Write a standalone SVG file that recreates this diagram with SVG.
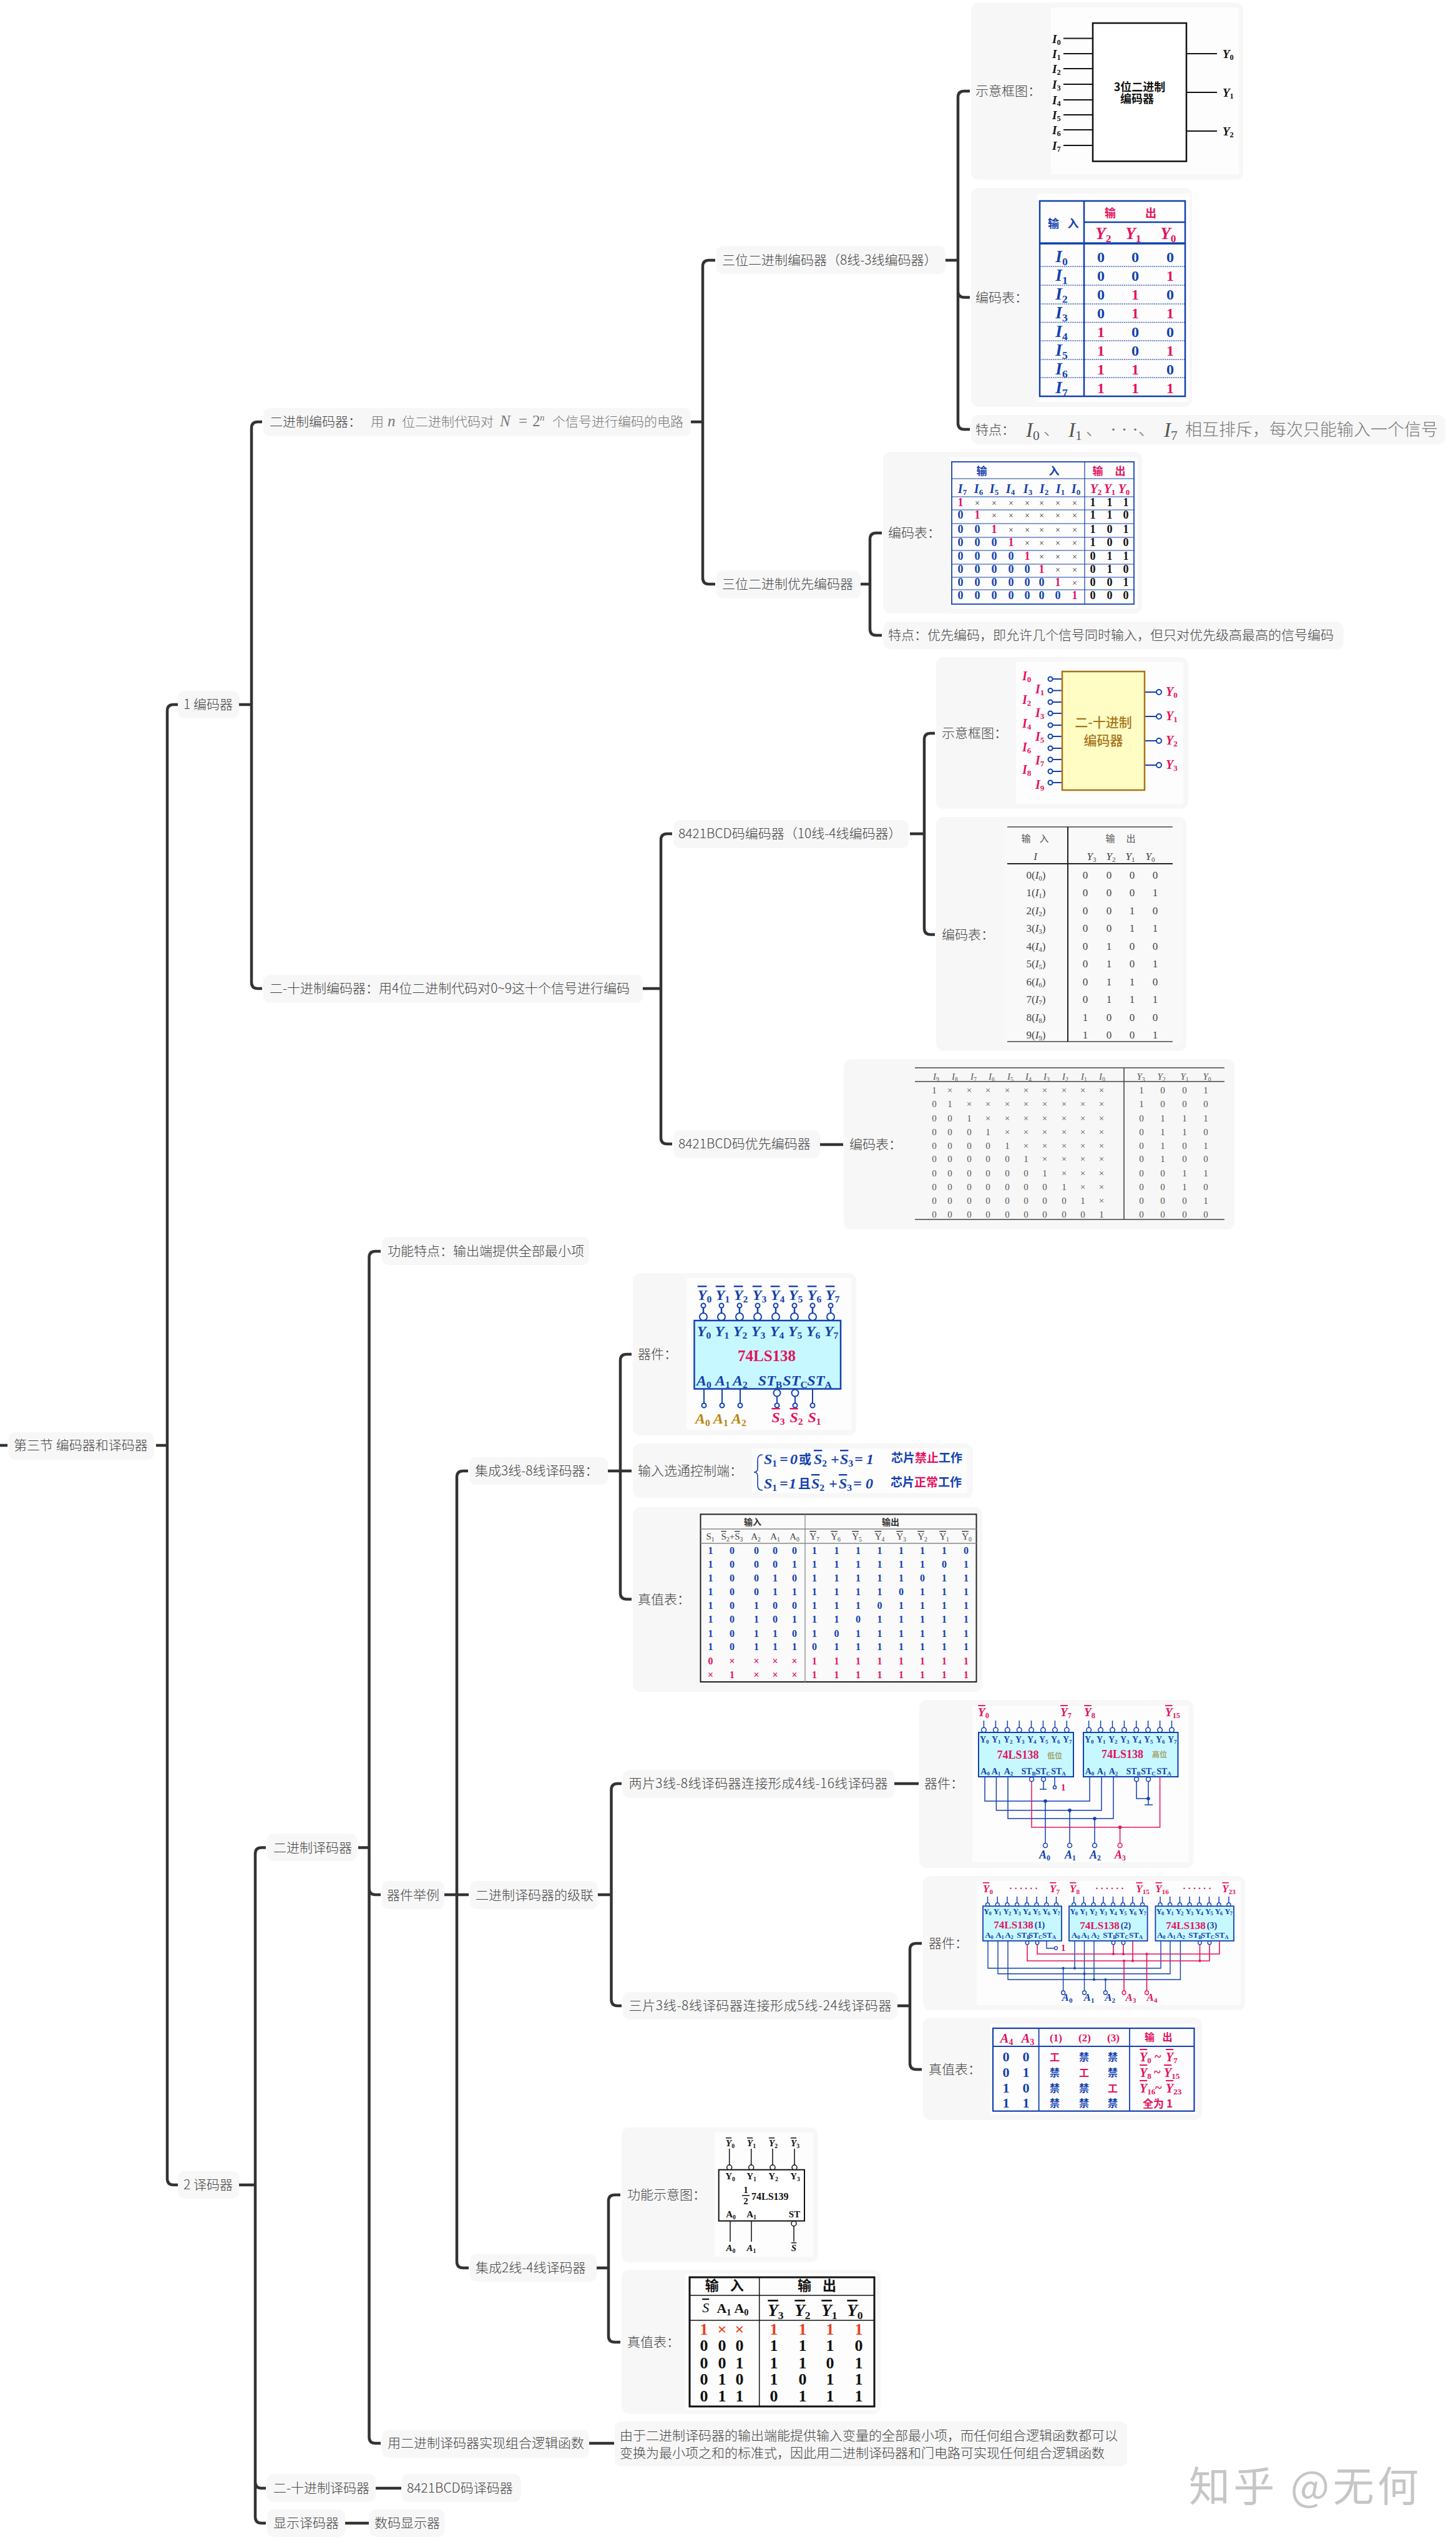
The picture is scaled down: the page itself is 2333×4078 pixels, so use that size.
<svg xmlns="http://www.w3.org/2000/svg" xmlns:xlink="http://www.w3.org/1999/xlink" width="2333" height="4078" viewBox="0 0 2333 4078">
<style>
svg{font-family:"Noto Sans CJK SC","Liberation Sans",sans-serif;}
.t{font-size:21px;fill:#444;font-weight:300}
.g{fill:#777}
.box{fill:#f7f7f7}
.w{fill:#fdfdfd}
.c{fill:none;stroke:#333;stroke-width:4.5}
.se{font-family:"Liberation Serif","Noto Sans CJK SC",serif}
.bi{font-family:"Liberation Serif","Noto Sans CJK SC",serif;font-weight:bold;font-style:italic}
.b{font-family:"Liberation Serif","Noto Sans CJK SC",serif;font-weight:bold}
.i{font-family:"Liberation Serif",serif;font-style:italic}
.m{text-anchor:middle}
.s{font-size:65%;baseline-shift:-25%;font-style:normal}
.o{text-decoration:overline}
.x{font-weight:normal;font-size:14px;fill:#333}
.B{fill:#1240ae}.R{fill:#e3125e}.K{fill:#111}.Br{fill:#b8860b}
.lb{fill:none;stroke:#1240ae}.lr{fill:none;stroke:#e3125e}.lk{fill:none;stroke:#111}
.cw{fill:#fff}
.chip{fill:#c8f8ff;stroke:#1240ae}
.hz{font-weight:bold}
</style>
<defs>
<g id="pf"><line x1="0" x2="0" y1="2095" y2="2104" class="lb" stroke-width="2.5"/><circle cy="2092" r="3.5" class="lb cw" stroke-width="2"/><circle cy="2110" r="6" class="lb cw" stroke-width="2"/></g>
<g id="pg"><line x1="0" x2="0" y1="2757" y2="2768" class="lb" stroke-width="1.5"/><circle cy="2772" r="3.8" class="lb cw" stroke-width="1.5"/></g>
<g id="ph"><line x1="0" x2="0" y1="3039" y2="3049" class="lb" stroke-width="1.5"/><circle cy="3052" r="3" class="lb cw" stroke-width="1.3"/></g>
<g id="pk"><line x1="0" x2="0" y1="3443" y2="3469" class="lk" stroke-width="1.5"/><circle cy="3473" r="4" class="lk cw" stroke-width="1.5"/></g>
</defs>
<rect width="2333" height="4078" fill="#fff"/>

<g id="connectors" class="c">
<path d="M0 2316H12M250 2316H268M285 1129H278Q268 1129 268 1139V3491Q268 3501 278 3501H285"/>
<path d="M383 1129H403M420 676H413Q403 676 403 686V1574Q403 1584 413 1584H420"/>
<path d="M383 3501H409M426 2960.5H419Q409 2960.5 409 2970.5V4033Q409 4043 419 4043H426M409 3977Q409 3987 419 3987H426"/>
<path d="M574 2960.5H591.5M610 2005H601.5Q591.5 2005 591.5 2015V3905Q591.5 3915 601.5 3915H610M591.5 3026Q591.5 3036 601.5 3036H610"/>
<path d="M712 3036H751M750 2357H742Q732 2357 732 2367V3624Q732 3634 742 3634H751"/>
<path d="M974 2357H1012M1012 2170H1004Q994 2170 994 2180V2552.6Q994 2562.6 1004 2562.6H1012"/>
<path d="M958 3036H979.5M996 2858H989.5Q979.5 2858 979.5 2868V3204Q979.5 3214 989.5 3214H996"/>
<path d="M1433 2858H1472"/>
<path d="M1438 3214H1458M1477 3114H1468Q1458 3114 1458 3124V3306Q1458 3316 1468 3316H1477"/>
<path d="M956 3634H975M994 3517H985Q975 3517 975 3527V3743Q975 3753 985 3753H994"/>
<path d="M944 3915H984M602 3987H643M553 4043H591"/>
<path d="M1107 676H1126M1146 417H1136Q1126 417 1126 427V926Q1126 936 1136 936H1146"/>
<path d="M1515 417H1535M1554 146H1545Q1535 146 1535 156V678Q1535 688 1545 688H1554M1535 466.6Q1535 476.6 1545 476.6H1554"/>
<path d="M1379 936H1394M1413 854H1404Q1394 854 1394 864V1008Q1394 1018 1404 1018H1413"/>
<path d="M1030 1584H1059M1077 1336H1069Q1059 1336 1059 1346V1823Q1059 1833 1069 1833H1077"/>
<path d="M1458 1336H1481M1498 1175H1491Q1481 1175 1481 1185V1487.5Q1481 1497.5 1491 1497.5H1498"/>
<path d="M1314 1834H1351"/>
</g>

<g id="root"><rect class="box" x="14" y="2295" width="233" height="44" rx="10"/><text class="t" x="22" y="2323">第三节 编码器和译码器</text></g>
<g id="n1"><rect class="box" x="285" y="1107" width="98" height="44" rx="10"/><text class="t" x="294" y="1136">1 编码器</text></g>
<g id="n2"><rect class="box" x="285" y="3479" width="98" height="44" rx="10"/><text class="t" x="294" y="3508">2 译码器</text></g>

<g id="n-bin-enc"><rect class="box" x="422" y="654" width="685" height="45" rx="10"/>
<text class="t" x="432" y="683">二进制编码器：</text>
<text class="t g" x="594" y="683">用</text><text class="i g" x="621" y="683" font-size="25">n</text>
<text class="t g" x="644" y="683">位二进制代码对</text><text class="i g" x="801" y="683" font-size="25">N</text>
<text class="se g" x="831" y="683" font-size="25">=</text><text class="se g" x="853" y="683" font-size="25">2</text><text class="i g" x="865" y="674" font-size="15">n</text>
<text class="t g" x="885" y="683">个信号进行编码的电路</text></g>

<g id="n-3bit"><rect class="box" x="1148" y="394" width="367" height="45" rx="10"/><text class="t" x="1157" y="424">三位二进制编码器（8线-3线编码器）</text></g>

<g id="n-3bit-diagram"><rect class="box" x="1556" y="4" width="436" height="284" rx="12"/><text class="t" x="1563" y="153">示意框图：</text>
<rect class="w" x="1684" y="12" width="301" height="267"/>
<path class="lk" stroke-width="2" d="M1704 61.5H1751M1704 86H1751M1704 110H1751M1704 135H1751M1704 160H1751M1704 184H1751M1704 208H1751M1704 233H1751M1901 86H1950M1901 148H1950M1901 210H1950"/>
<rect x="1751" y="37" width="150" height="221.5" fill="#fff" stroke="#111" stroke-width="2.5"/>
<g class="bi K" font-size="19"><text x="1686" y="69">I<tspan class="s">0</tspan></text><text x="1686" y="93">I<tspan class="s">1</tspan></text><text x="1686" y="117">I<tspan class="s">2</tspan></text><text x="1686" y="142">I<tspan class="s">3</tspan></text><text x="1686" y="167">I<tspan class="s">4</tspan></text><text x="1686" y="191">I<tspan class="s">5</tspan></text><text x="1686" y="215">I<tspan class="s">6</tspan></text><text x="1686" y="240">I<tspan class="s">7</tspan></text>
<text x="1959" y="93">Y<tspan class="s">0</tspan></text><text x="1959" y="155">Y<tspan class="s">1</tspan></text><text x="1959" y="217">Y<tspan class="s">2</tspan></text></g>
<text class="m hz K" x="1826" y="146" font-size="18">3位二进制</text><text class="m hz K" x="1822" y="165" font-size="18">编码器</text></g>

<g id="n-3bit-table"><rect class="box" x="1556" y="301" width="354" height="351" rx="12"/><text class="t" x="1563" y="484">编码表：</text>
<rect class="w" x="1662" y="310" width="244" height="334"/>
<rect x="1666" y="322" width="233" height="313" fill="none" stroke="#1240ae" stroke-width="2.5"/>
<path class="lb" stroke-width="2.5" d="M1737 322V635M1737 356H1899"/><path class="lb" stroke-width="3.5" d="M1666 390H1899"/>
<path class="lb" stroke-width="1.5" stroke-dasharray="1.5 1.5" d="M1666 427H1899M1666 457H1899M1666 487H1899M1666 516.5H1899M1666 546H1899M1666 576H1899M1666 605H1899"/>
<g class="hz B" font-size="18"><text class="m" x="1688" y="365">输</text><text class="m" x="1719.5" y="365">入</text></g>
<g class="hz R" font-size="18"><text class="m" x="1779" y="348">输</text><text class="m" x="1844" y="348">出</text></g>
<g class="bi R" font-size="27"><text class="m" x="1768" y="383">Y<tspan class="s">2</tspan></text><text class="m" x="1816" y="383">Y<tspan class="s">1</tspan></text><text class="m" x="1872" y="383">Y<tspan class="s">0</tspan></text></g>
<g class="bi B" font-size="27"><text class="m" x="1701" y="420">I<tspan class="s">0</tspan></text><text class="m" x="1701" y="450">I<tspan class="s">1</tspan></text><text class="m" x="1701" y="480">I<tspan class="s">2</tspan></text><text class="m" x="1701" y="510">I<tspan class="s">3</tspan></text><text class="m" x="1701" y="540">I<tspan class="s">4</tspan></text><text class="m" x="1701" y="570">I<tspan class="s">5</tspan></text><text class="m" x="1701" y="600">I<tspan class="s">6</tspan></text><text class="m" x="1701" y="630">I<tspan class="s">7</tspan></text></g>
<g class="b B" font-size="24" text-anchor="middle">
<text x="1764 1819 1875" y="420">000</text>
<text x="1764 1819 1875" y="450">00<tspan class="R">1</tspan></text>
<text x="1764 1819 1875" y="480">0<tspan class="R">1</tspan>0</text>
<text x="1764 1819 1875" y="510">0<tspan class="R">11</tspan></text>
<text x="1764 1819 1875" y="540"><tspan class="R">1</tspan>00</text>
<text x="1764 1819 1875" y="570"><tspan class="R">1</tspan>0<tspan class="R">1</tspan></text>
<text x="1764 1819 1875" y="600"><tspan class="R">11</tspan>0</text>
<text x="1764 1819 1875" y="630"><tspan class="R">111</tspan></text>
</g></g>

<g id="n-3bit-feature"><rect class="box" x="1556" y="665" width="760" height="47" rx="12"/><text class="t" x="1563" y="696">特点：</text>
<g fill="#555"><text class="i" x="1644" y="700" font-size="33">I<tspan class="s">0</tspan></text><text class="t g" x="1672" y="697" style="font-size:26px">、</text>
<text class="i" x="1712" y="700" font-size="33">I<tspan class="s">1</tspan></text><text class="t g" x="1740" y="697" style="font-size:26px">、</text>
<text class="se g" x="1779" y="698" font-size="30">· · ·</text><text class="t g" x="1824" y="697" style="font-size:26px">、</text>
<text class="i" x="1865" y="700" font-size="33">I<tspan class="s">7</tspan></text></g>
<text class="t g" x="1899" y="698" style="font-size:27px">相互排斥，每次只能输入一个信号</text></g>

<g id="n-prio"><rect class="box" x="1148" y="914" width="231" height="45" rx="10"/><text class="t" x="1157" y="943">三位二进制优先编码器</text></g>

<g id="n-prio-table"><rect class="box" x="1415" y="724" width="415" height="259" rx="12"/><text class="t" x="1423" y="861">编码表：</text>
<rect class="w" x="1522" y="733" width="301" height="242"/>
<rect x="1525" y="740" width="292" height="228" fill="none" stroke="#2b55b5" stroke-width="2"/>
<path class="lb" stroke-width="1.2" d="M1738 740V968M1525 767H1817M1525 796H1817M1525 817H1817M1525 839H1817M1525 861H1817M1525 882H1817M1525 904H1817M1525 925H1817M1525 945H1817"/>
<g class="hz B" font-size="17"><text class="m" x="1573" y="761">输</text><text class="m" x="1689" y="761">入</text></g>
<g class="hz R" font-size="17"><text class="m" x="1759" y="761">输</text><text class="m" x="1795" y="761">出</text></g>
<g class="bi B" font-size="20"><text class="m" x="1542" y="790">I<tspan class="s">7</tspan></text><text class="m" x="1568" y="790">I<tspan class="s">6</tspan></text><text class="m" x="1593" y="790">I<tspan class="s">5</tspan></text><text class="m" x="1619" y="790">I<tspan class="s">4</tspan></text><text class="m" x="1647" y="790">I<tspan class="s">3</tspan></text><text class="m" x="1673" y="790">I<tspan class="s">2</tspan></text><text class="m" x="1699" y="790">I<tspan class="s">1</tspan></text><text class="m" x="1724" y="790">I<tspan class="s">0</tspan></text></g>
<g class="bi R" font-size="20"><text class="m" x="1756" y="790">Y<tspan class="s">2</tspan></text><text class="m" x="1778" y="790">Y<tspan class="s">1</tspan></text><text class="m" x="1801" y="790">Y<tspan class="s">0</tspan></text></g>
<g class="b B" font-size="18" text-anchor="middle">
<text x="1539 1566 1593 1620 1646 1669 1695 1722 1751 1778 1804" y="811"><tspan class="R">1</tspan><tspan class="x">×××××××</tspan><tspan class="K">111</tspan></text>
<text x="1539 1566 1593 1620 1646 1669 1695 1722 1751 1778 1804" y="831">0<tspan class="R">1</tspan><tspan class="x">××××××</tspan><tspan class="K">110</tspan></text>
<text x="1539 1566 1593 1620 1646 1669 1695 1722 1751 1778 1804" y="854">00<tspan class="R">1</tspan><tspan class="x">×××××</tspan><tspan class="K">101</tspan></text>
<text x="1539 1566 1593 1620 1646 1669 1695 1722 1751 1778 1804" y="875">000<tspan class="R">1</tspan><tspan class="x">××××</tspan><tspan class="K">100</tspan></text>
<text x="1539 1566 1593 1620 1646 1669 1695 1722 1751 1778 1804" y="897">0000<tspan class="R">1</tspan><tspan class="x">×××</tspan><tspan class="K">011</tspan></text>
<text x="1539 1566 1593 1620 1646 1669 1695 1722 1751 1778 1804" y="918">00000<tspan class="R">1</tspan><tspan class="x">××</tspan><tspan class="K">010</tspan></text>
<text x="1539 1566 1593 1620 1646 1669 1695 1722 1751 1778 1804" y="939">000000<tspan class="R">1</tspan><tspan class="x">×</tspan><tspan class="K">001</tspan></text>
<text x="1539 1566 1593 1620 1646 1669 1695 1722 1751 1778 1804" y="960">0000000<tspan class="R">1</tspan><tspan class="K">000</tspan></text>
</g></g>

<g id="n-prio-feature"><rect class="box" x="1415" y="996" width="738" height="44" rx="12"/><text class="t" x="1423" y="1025">特点：优先编码，即允许几个信号同时输入，但只对优先级高最高的信号编码</text></g>

<g id="n-bcd-enc"><rect class="box" x="422" y="1562" width="608" height="45" rx="10"/><text class="t" x="432" y="1591">二-十进制编码器：用4位二进制代码对0~9这十个信号进行编码</text></g>
<g id="n-8421"><rect class="box" x="1079" y="1314" width="377" height="45" rx="10"/><text class="t" x="1087" y="1343">8421BCD码编码器（10线-4线编码器）</text></g>

<g id="n-8421-diagram"><rect class="box" x="1500" y="1053" width="404" height="243" rx="12"/><text class="t" x="1509" y="1182">示意框图：</text>
<rect class="w" x="1628" y="1061" width="268" height="227"/>
<path class="lb" stroke-width="2" d="M1686 1088H1702M1686 1106.5H1702M1686 1125H1702M1686 1143H1702M1686 1162H1702M1686 1180H1702M1686 1199H1702M1686 1217H1702M1686 1236H1702M1686 1254H1702M1834 1109H1854M1834 1148H1854M1834 1187H1854M1834 1226H1854"/>
<g class="lb cw" stroke-width="2"><circle cx="1683" cy="1088" r="3.5"/><circle cx="1683" cy="1106.5" r="3.5"/><circle cx="1683" cy="1125" r="3.5"/><circle cx="1683" cy="1143" r="3.5"/><circle cx="1683" cy="1162" r="3.5"/><circle cx="1683" cy="1180" r="3.5"/><circle cx="1683" cy="1199" r="3.5"/><circle cx="1683" cy="1217" r="3.5"/><circle cx="1683" cy="1236" r="3.5"/><circle cx="1683" cy="1254" r="3.5"/><circle cx="1857" cy="1109" r="4"/><circle cx="1857" cy="1148" r="4"/><circle cx="1857" cy="1187" r="4"/><circle cx="1857" cy="1226" r="4"/></g>
<rect x="1702" y="1076" width="132" height="190" fill="#fffdc4" stroke="#a8741a" stroke-width="2.5"/>
<g class="bi R" font-size="20"><text x="1638" y="1090">I<tspan class="s">0</tspan></text><text x="1659" y="1111">I<tspan class="s">1</tspan></text><text x="1638" y="1128">I<tspan class="s">2</tspan></text><text x="1659" y="1149">I<tspan class="s">3</tspan></text><text x="1638" y="1166">I<tspan class="s">4</tspan></text><text x="1659" y="1187">I<tspan class="s">5</tspan></text><text x="1638" y="1204">I<tspan class="s">6</tspan></text><text x="1659" y="1225">I<tspan class="s">7</tspan></text><text x="1638" y="1240">I<tspan class="s">8</tspan></text><text x="1659" y="1264">I<tspan class="s">9</tspan></text>
<text x="1868" y="1115">Y<tspan class="s">0</tspan></text><text x="1868" y="1154">Y<tspan class="s">1</tspan></text><text x="1868" y="1193">Y<tspan class="s">2</tspan></text><text x="1868" y="1232">Y<tspan class="s">3</tspan></text></g>
<text class="m" font-weight="500" fill="#a8741a" x="1768" y="1165" font-size="21">二-十进制</text><text class="m" font-weight="500" fill="#a8741a" x="1768" y="1194" font-size="21">编码器</text></g>

<g id="n-8421-table"><rect class="box" x="1500" y="1309" width="401" height="375" rx="12"/><text class="t" x="1509" y="1505">编码表：</text>
<rect x="1608" y="1318" width="285" height="357" style="fill:#f9f9f9"/>
<path style="stroke:#444;fill:none" stroke-width="1.5" d="M1614 1325H1879M1614 1669H1879"/><path style="stroke:#222;fill:none" stroke-width="2" d="M1614 1384H1879M1711 1325V1669"/>
<g fill="#555" font-size="15"><text class="m" x="1644" y="1349">输</text><text class="m" x="1673" y="1349">入</text><text class="m" x="1779" y="1349">输</text><text class="m" x="1812" y="1349">出</text></g>
<g class="i" fill="#444" font-size="17"><text class="m" x="1659" y="1378">I</text><text class="m" x="1749" y="1378">Y<tspan class="s">3</tspan></text><text class="m" x="1780" y="1378">Y<tspan class="s">2</tspan></text><text class="m" x="1811" y="1378">Y<tspan class="s">1</tspan></text><text class="m" x="1843" y="1378">Y<tspan class="s">0</tspan></text></g>
<g class="se" fill="#444" font-size="17"><text class="m" x="1660" y="1408">0(<tspan class="i">I</tspan><tspan class="s">0</tspan>)</text><text class="m" x="1660" y="1436">1(<tspan class="i">I</tspan><tspan class="s">1</tspan>)</text><text class="m" x="1660" y="1465">2(<tspan class="i">I</tspan><tspan class="s">2</tspan>)</text><text class="m" x="1660" y="1493">3(<tspan class="i">I</tspan><tspan class="s">3</tspan>)</text><text class="m" x="1660" y="1522">4(<tspan class="i">I</tspan><tspan class="s">4</tspan>)</text><text class="m" x="1660" y="1550">5(<tspan class="i">I</tspan><tspan class="s">5</tspan>)</text><text class="m" x="1660" y="1579">6(<tspan class="i">I</tspan><tspan class="s">6</tspan>)</text><text class="m" x="1660" y="1607">7(<tspan class="i">I</tspan><tspan class="s">7</tspan>)</text><text class="m" x="1660" y="1636">8(<tspan class="i">I</tspan><tspan class="s">8</tspan>)</text><text class="m" x="1660" y="1664">9(<tspan class="i">I</tspan><tspan class="s">9</tspan>)</text></g>
<g class="se" fill="#444" font-size="17" text-anchor="middle">
<text x="1739 1777 1814 1851" y="1408">0000</text><text x="1739 1777 1814 1851" y="1436">0001</text><text x="1739 1777 1814 1851" y="1465">0010</text><text x="1739 1777 1814 1851" y="1493">0011</text><text x="1739 1777 1814 1851" y="1522">0100</text><text x="1739 1777 1814 1851" y="1550">0101</text><text x="1739 1777 1814 1851" y="1579">0110</text><text x="1739 1777 1814 1851" y="1607">0111</text><text x="1739 1777 1814 1851" y="1636">1000</text><text x="1739 1777 1814 1851" y="1664">1001</text>
</g></g>

<g id="n-8421-prio"><rect class="box" x="1079" y="1811" width="235" height="45" rx="10"/><text class="t" x="1087" y="1840">8421BCD码优先编码器</text></g>
<g id="n-8421-prio-table"><rect class="box" x="1352" y="1697" width="626" height="273" rx="12"/><text class="t" x="1361" y="1841">编码表：</text>
<path style="stroke:#444;fill:none" stroke-width="1.6" d="M1466 1711H1962M1466 1733H1962M1466 1954H1962M1801 1711V1954"/>
<g class="i" fill="#555" font-size="15"><text class="m" x="1500" y="1730">I<tspan class="s">9</tspan></text><text class="m" x="1530" y="1730">I<tspan class="s">8</tspan></text><text class="m" x="1560" y="1730">I<tspan class="s">7</tspan></text><text class="m" x="1589" y="1730">I<tspan class="s">6</tspan></text><text class="m" x="1619" y="1730">I<tspan class="s">5</tspan></text><text class="m" x="1648" y="1730">I<tspan class="s">4</tspan></text><text class="m" x="1677" y="1730">I<tspan class="s">3</tspan></text><text class="m" x="1707" y="1730">I<tspan class="s">2</tspan></text><text class="m" x="1737" y="1730">I<tspan class="s">1</tspan></text><text class="m" x="1766" y="1730">I<tspan class="s">0</tspan></text><text class="m" x="1828" y="1730">Y<tspan class="s">3</tspan></text><text class="m" x="1861" y="1730">Y<tspan class="s">2</tspan></text><text class="m" x="1898" y="1730">Y<tspan class="s">1</tspan></text><text class="m" x="1934" y="1730">Y<tspan class="s">0</tspan></text></g>
<g class="se" fill="#555" font-size="15" text-anchor="middle">
<text x="1497 1522 1553 1583 1614 1644 1674 1705 1735 1765 1829 1863 1898 1932" y="1752">1×××××××××1001</text>
<text x="1497 1522 1553 1583 1614 1644 1674 1705 1735 1765 1829 1863 1898 1932" y="1774">01××××××××1000</text>
<text x="1497 1522 1553 1583 1614 1644 1674 1705 1735 1765 1829 1863 1898 1932" y="1797">001×××××××0111</text>
<text x="1497 1522 1553 1583 1614 1644 1674 1705 1735 1765 1829 1863 1898 1932" y="1819">0001××××××0110</text>
<text x="1497 1522 1553 1583 1614 1644 1674 1705 1735 1765 1829 1863 1898 1932" y="1841">00001×××××0101</text>
<text x="1497 1522 1553 1583 1614 1644 1674 1705 1735 1765 1829 1863 1898 1932" y="1862">000001××××0100</text>
<text x="1497 1522 1553 1583 1614 1644 1674 1705 1735 1765 1829 1863 1898 1932" y="1885">0000001×××0011</text>
<text x="1497 1522 1553 1583 1614 1644 1674 1705 1735 1765 1829 1863 1898 1932" y="1907">00000001××0010</text>
<text x="1497 1522 1553 1583 1614 1644 1674 1705 1735 1765 1829 1863 1898 1932" y="1929">000000001×0001</text>
<text x="1497 1522 1553 1583 1614 1644 1674 1705 1735 1765 1829 1863 1898 1932" y="1951">00000000010000</text>
</g></g>

<g id="n-bin-dec"><rect class="box" x="428" y="2938" width="144" height="44" rx="10"/><text class="t" x="438" y="2968">二进制译码器</text></g>
<g id="n-feature"><rect class="box" x="612" y="1982" width="332" height="45" rx="10"/><text class="t" x="621" y="2012">功能特点：输出端提供全部最小项</text></g>
<g id="n-examples"><rect class="box" x="612" y="3014" width="100" height="45" rx="10"/><text class="t" x="620" y="3044">器件举例</text></g>
<g id="n-38"><rect class="box" x="752" y="2335" width="222" height="44" rx="10"/><text class="t" x="761" y="2364">集成3线-8线译码器：</text></g>

<g id="n-38-device"><rect class="box" x="1014" y="2040" width="358" height="260" rx="12"/><text class="t" x="1022" y="2177">器件：</text>
<rect class="w" x="1100" y="2048" width="264" height="243"/>
<use href="#pf" x="1127"/><use href="#pf" x="1156"/><use href="#pf" x="1185"/><use href="#pf" x="1214"/><use href="#pf" x="1243"/><use href="#pf" x="1273"/><use href="#pf" x="1302"/><use href="#pf" x="1331"/>
<rect class="chip" x="1112.5" y="2116" width="234.5" height="109.5" stroke-width="2.5"/>
<g class="bi B" font-size="24">
<text class="m" x="1129" y="2083"><tspan class="o">Y</tspan><tspan class="s">0</tspan></text><text class="m" x="1158" y="2083"><tspan class="o">Y</tspan><tspan class="s">1</tspan></text><text class="m" x="1187" y="2083"><tspan class="o">Y</tspan><tspan class="s">2</tspan></text><text class="m" x="1217" y="2083"><tspan class="o">Y</tspan><tspan class="s">3</tspan></text><text class="m" x="1246" y="2083"><tspan class="o">Y</tspan><tspan class="s">4</tspan></text><text class="m" x="1275" y="2083"><tspan class="o">Y</tspan><tspan class="s">5</tspan></text><text class="m" x="1305" y="2083"><tspan class="o">Y</tspan><tspan class="s">6</tspan></text><text class="m" x="1334" y="2083"><tspan class="o">Y</tspan><tspan class="s">7</tspan></text>
<text class="m" x="1128" y="2141">Y<tspan class="s">0</tspan></text><text class="m" x="1157" y="2141">Y<tspan class="s">1</tspan></text><text class="m" x="1186" y="2141">Y<tspan class="s">2</tspan></text><text class="m" x="1215" y="2141">Y<tspan class="s">3</tspan></text><text class="m" x="1245" y="2141">Y<tspan class="s">4</tspan></text><text class="m" x="1274" y="2141">Y<tspan class="s">5</tspan></text><text class="m" x="1303" y="2141">Y<tspan class="s">6</tspan></text><text class="m" x="1332" y="2141">Y<tspan class="s">7</tspan></text>
<text class="m" x="1128" y="2220">A<tspan class="s">0</tspan></text><text class="m" x="1158" y="2220">A<tspan class="s">1</tspan></text><text class="m" x="1186" y="2220">A<tspan class="s">2</tspan></text><text class="m" x="1234" y="2220">ST<tspan class="s">B</tspan></text><text class="m" x="1274" y="2220">ST<tspan class="s">C</tspan></text><text class="m" x="1313" y="2220">ST<tspan class="s">A</tspan></text></g>
<text class="b R m" x="1228.5" y="2181" font-size="25">74LS138</text>
<path class="lb" stroke-width="2" d="M1128 2226V2249M1157 2226V2249M1186 2226V2249M1245 2238V2249M1274 2238V2249M1302 2226V2249"/>
<g class="lb cw" stroke-width="2"><circle cx="1128" cy="2252" r="3.5"/><circle cx="1157" cy="2252" r="3.5"/><circle cx="1186" cy="2252" r="3.5"/><circle cx="1245" cy="2252" r="3.5"/><circle cx="1274" cy="2252" r="3.5"/><circle cx="1302" cy="2252" r="3.5"/><circle cx="1245" cy="2232" r="5.5"/><circle cx="1274" cy="2232" r="5.5"/></g>
<g class="bi Br" font-size="24"><text class="m" x="1126" y="2281">A<tspan class="s">0</tspan></text><text class="m" x="1155" y="2281">A<tspan class="s">1</tspan></text><text class="m" x="1184" y="2281">A<tspan class="s">2</tspan></text></g>
<g class="bi R" font-size="24"><text class="m" x="1247" y="2279"><tspan class="o">S</tspan><tspan class="s">3</tspan></text><text class="m" x="1276" y="2279"><tspan class="o">S</tspan><tspan class="s">2</tspan></text><text class="m" x="1305" y="2279">S<tspan class="s">1</tspan></text></g></g>

<g id="n-38-enable"><rect class="box" x="1014" y="2313" width="545" height="87.5" rx="12"/><text class="t" x="1022" y="2364">输入选通控制端：</text>
<rect class="w" x="1205" y="2321" width="345" height="71.5"/>
<path class="lb" stroke-width="1.6" d="M1222 2331Q1214 2331 1214 2339V2353Q1214 2359 1208 2359Q1214 2359 1214 2365V2380Q1214 2388 1222 2388"/>
<g class="bi B" font-size="24"><text x="1224" y="2346">S<tspan class="s">1</tspan></text><text x="1249" y="2346">=</text><text x="1266" y="2346">0</text><text x="1280" y="2346" style="font-style:normal;font-size:20px">或</text><text x="1304" y="2346"><tspan class="o">S</tspan><tspan class="s">2</tspan></text><text x="1331" y="2346">+</text><text x="1346" y="2346"><tspan class="o">S</tspan><tspan class="s">3</tspan></text><text x="1369" y="2346">=</text><text x="1388" y="2346">1</text>
<text x="1224" y="2385">S<tspan class="s">1</tspan></text><text x="1249" y="2385">=</text><text x="1264" y="2385">1</text><text x="1279" y="2385" style="font-style:normal;font-size:20px">且</text><text x="1300" y="2385"><tspan class="o">S</tspan><tspan class="s">2</tspan></text><text x="1328" y="2385">+</text><text x="1344" y="2385"><tspan class="o">S</tspan><tspan class="s">3</tspan></text><text x="1367" y="2385">=</text><text x="1387" y="2385">0</text></g>
<text class="hz B" x="1428" y="2343" font-size="19">芯片<tspan class="R">禁止</tspan>工作</text><text class="hz B" x="1427" y="2382" font-size="19">芯片<tspan class="R">正常</tspan>工作</text></g>

<g id="n-38-table"><rect class="box" x="1014" y="2415" width="560" height="296" rx="12"/><text class="t" x="1022" y="2570">真值表：</text>
<rect x="1122.5" y="2426.4" width="442" height="268.6" fill="#fafafa" stroke="#222" stroke-width="2"/>
<path style="stroke:#888;fill:none" stroke-width="1.3" d="M1122.5 2450H1564.5M1122.5 2473H1564.5M1290 2426.4V2695"/>
<g class="hz" fill="#333" font-size="14"><text class="m" x="1206" y="2444">输入</text><text class="m" x="1427" y="2444">输出</text></g>
<g class="se" fill="#444" font-size="15"><text class="m" x="1138" y="2467">S<tspan class="s">1</tspan></text><text class="m" x="1173" y="2467"><tspan class="o">S</tspan><tspan class="s">2</tspan>+<tspan class="o">S</tspan><tspan class="s">3</tspan></text><text class="m" x="1211" y="2467">A<tspan class="s">2</tspan></text><text class="m" x="1242" y="2467">A<tspan class="s">1</tspan></text><text class="m" x="1273" y="2467">A<tspan class="s">0</tspan></text><text class="m" x="1305" y="2467"><tspan class="o">Y</tspan><tspan class="s">7</tspan></text><text class="m" x="1339" y="2467"><tspan class="o">Y</tspan><tspan class="s">6</tspan></text><text class="m" x="1373" y="2467"><tspan class="o">Y</tspan><tspan class="s">5</tspan></text><text class="m" x="1409.5" y="2467"><tspan class="o">Y</tspan><tspan class="s">4</tspan></text><text class="m" x="1444" y="2467"><tspan class="o">Y</tspan><tspan class="s">3</tspan></text><text class="m" x="1478" y="2467"><tspan class="o">Y</tspan><tspan class="s">2</tspan></text><text class="m" x="1513" y="2467"><tspan class="o">Y</tspan><tspan class="s">1</tspan></text><text class="m" x="1549" y="2467"><tspan class="o">Y</tspan><tspan class="s">0</tspan></text></g>
<g class="b B" font-size="16" text-anchor="middle">
<text x="1138.5 1173 1212 1242 1273 1305 1340.6 1375 1409.5 1444 1478 1513 1548" y="2489.5">1000011111110</text>
<text x="1138.5 1173 1212 1242 1273 1305 1340.6 1375 1409.5 1444 1478 1513 1548" y="2512">1000111111101</text>
<text x="1138.5 1173 1212 1242 1273 1305 1340.6 1375 1409.5 1444 1478 1513 1548" y="2534">1001011111011</text>
<text x="1138.5 1173 1212 1242 1273 1305 1340.6 1375 1409.5 1444 1478 1513 1548" y="2556">1001111110111</text>
<text x="1138.5 1173 1212 1242 1273 1305 1340.6 1375 1409.5 1444 1478 1513 1548" y="2578">1010011101111</text>
<text x="1138.5 1173 1212 1242 1273 1305 1340.6 1375 1409.5 1444 1478 1513 1548" y="2600">1010111011111</text>
<text x="1138.5 1173 1212 1242 1273 1305 1340.6 1375 1409.5 1444 1478 1513 1548" y="2622.5">1011010111111</text>
<text x="1138.5 1173 1212 1242 1273 1305 1340.6 1375 1409.5 1444 1478 1513 1548" y="2644">1011101111111</text>
<text class="R" x="1138.5 1173 1212 1242 1273 1305 1340.6 1375 1409.5 1444 1478 1513 1548" y="2667">0××××11111111</text>
<text class="R" x="1138.5 1173 1212 1242 1273 1305 1340.6 1375 1409.5 1444 1478 1513 1548" y="2689">×1×××11111111</text>
</g></g>

<g id="n-cascade"><rect class="box" x="753" y="3014" width="205" height="45" rx="10"/><text class="t" x="762" y="3044">二进制译码器的级联</text></g>
<g id="n-two"><rect class="box" x="998" y="2836" width="435" height="45" rx="10"/><text class="t" x="1007.5" y="2865" textLength="415">两片3线-8线译码器连接形成4线-16线译码器</text></g>
<g id="n-three"><rect class="box" x="998" y="3192" width="440" height="44" rx="10"/><text class="t" x="1007.5" y="3221" textLength="421">三片3线-8线译码器连接形成5线-24线译码器</text></g>

<g id="n-two-device"><rect class="box" x="1473" y="2724" width="439.5" height="269" rx="12"/><text class="t" x="1481" y="2865">器件：</text>
<rect class="w" x="1558" y="2733" width="347" height="251"/>
<use href="#pg" x="1576.4"/><use href="#pg" x="1595.4"/><use href="#pg" x="1614.3"/><use href="#pg" x="1633.2"/><use href="#pg" x="1652.5"/><use href="#pg" x="1671.4"/><use href="#pg" x="1690.4"/><use href="#pg" x="1709.3"/>
<use href="#pg" x="1744.6"/><use href="#pg" x="1763.6"/><use href="#pg" x="1782.5"/><use href="#pg" x="1801.4"/><use href="#pg" x="1820.7"/><use href="#pg" x="1839.6"/><use href="#pg" x="1858.6"/><use href="#pg" x="1877.5"/>
<rect class="chip" x="1568" y="2776" width="152" height="71" stroke-width="2"/><rect class="chip" x="1736" y="2776" width="151.5" height="71" stroke-width="2"/>
<g class="bi R" font-size="19"><text class="m" x="1576" y="2750"><tspan class="o">Y</tspan><tspan class="s">0</tspan></text><text class="m" x="1708" y="2750"><tspan class="o">Y</tspan><tspan class="s">7</tspan></text><text class="m" x="1746" y="2750"><tspan class="o">Y</tspan><tspan class="s">8</tspan></text><text class="m" x="1879" y="2750"><tspan class="o">Y</tspan><tspan class="s">15</tspan></text></g>
<g class="b B" font-size="14"><text x="1570 1580 1589 1599 1608 1618 1627 1637 1646 1656 1665 1675 1684 1694 1703 1713" y="2792">Y<tspan class="s">0</tspan>Y<tspan class="s">1</tspan>Y<tspan class="s">2</tspan>Y<tspan class="s">3</tspan>Y<tspan class="s">4</tspan>Y<tspan class="s">5</tspan>Y<tspan class="s">6</tspan>Y<tspan class="s">7</tspan></text>
<text x="1738 1748 1757 1767 1776 1786 1795 1805 1814 1824 1833 1843 1852 1862 1871 1881" y="2792">Y<tspan class="s">0</tspan>Y<tspan class="s">1</tspan>Y<tspan class="s">2</tspan>Y<tspan class="s">3</tspan>Y<tspan class="s">4</tspan>Y<tspan class="s">5</tspan>Y<tspan class="s">6</tspan>Y<tspan class="s">7</tspan></text>
<text class="m" x="1578.6" y="2843">A<tspan class="s">0</tspan></text><text class="m" x="1596" y="2843">A<tspan class="s">1</tspan></text><text class="m" x="1616" y="2843">A<tspan class="s">2</tspan></text><text class="m" x="1648" y="2843">ST<tspan class="s">B</tspan></text><text class="m" x="1671" y="2843">ST<tspan class="s">C</tspan></text><text class="m" x="1696" y="2843">ST<tspan class="s">A</tspan></text>
<text class="m" x="1746" y="2843">A<tspan class="s">0</tspan></text><text class="m" x="1765" y="2843">A<tspan class="s">1</tspan></text><text class="m" x="1784" y="2843">A<tspan class="s">2</tspan></text><text class="m" x="1816" y="2843">ST<tspan class="s">B</tspan></text><text class="m" x="1840" y="2843">ST<tspan class="s">C</tspan></text><text class="m" x="1865" y="2843">ST<tspan class="s">A</tspan></text></g>
<text class="b R m" x="1631" y="2818" font-size="18">74LS138</text><text class="hz m" fill="#a3a36a" x="1690" y="2818" font-size="12">低位</text>
<text class="b R m" x="1798.6" y="2817" font-size="18">74LS138</text><text class="hz m" fill="#a3a36a" x="1858" y="2816" font-size="12">高位</text>
<path class="lb" stroke-width="1.5" d="M1578 2847V2886H1746V2847M1596.4 2847V2900.7H1765V2847M1615 2847V2914H1784V2847M1675 2886V2954M1714 2900.7V2954M1754 2914V2954M1672 2855V2867M1666 2867H1677M1690 2847V2861M1821 2855V2882H1840M1840 2855V2892M1834 2892H1847"/>
<path class="lr" stroke-width="1.5" d="M1653 2855V2928H1858.6V2847M1794.6 2928V2954"/>
<g class="lb cw" stroke-width="1.5"><circle cx="1653" cy="2851" r="3.5"/><circle cx="1672" cy="2851" r="3.5"/><circle cx="1821" cy="2851" r="3.5"/><circle cx="1840" cy="2851" r="3.5"/><circle cx="1690" cy="2864" r="2.5"/><circle cx="1675" cy="2957" r="3.5"/><circle cx="1714" cy="2957" r="3.5"/><circle cx="1754" cy="2957" r="3.5"/></g>
<circle cx="1794.6" cy="2957" r="3.5" class="lr cw" stroke-width="1.5"/>
<g class="B"><circle cx="1675" cy="2886" r="2.8"/><circle cx="1714" cy="2900.7" r="2.8"/><circle cx="1754" cy="2914" r="2.8"/><circle cx="1840" cy="2882" r="2.8"/></g><circle class="R" cx="1794.6" cy="2928" r="2.8"/>
<text class="b R" x="1700" y="2869" font-size="15">1</text>
<g class="bi B" font-size="18"><text class="m" x="1674" y="2978">A<tspan class="s">0</tspan></text><text class="m" x="1715" y="2978">A<tspan class="s">1</tspan></text><text class="m" x="1755" y="2978">A<tspan class="s">2</tspan></text><text class="m R" x="1795" y="2978">A<tspan class="s">3</tspan></text></g></g>

<g id="n-three-device"><rect class="box" x="1478.6" y="3006" width="516.4" height="215" rx="12"/><text class="t" x="1488" y="3121">器件：</text>
<rect class="w" x="1565" y="3014" width="423" height="199"/>
<use href="#ph" x="1582.5"/><use href="#ph" x="1598.2"/><use href="#ph" x="1613.9"/><use href="#ph" x="1629.6"/><use href="#ph" x="1645.4"/><use href="#ph" x="1661"/><use href="#ph" x="1676.8"/><use href="#ph" x="1692.5"/>
<use href="#ph" x="1720.7"/><use href="#ph" x="1736.4"/><use href="#ph" x="1752.1"/><use href="#ph" x="1767.8"/><use href="#ph" x="1783.5"/><use href="#ph" x="1799.2"/><use href="#ph" x="1814.9"/><use href="#ph" x="1830.6"/>
<use href="#ph" x="1859"/><use href="#ph" x="1874.7"/><use href="#ph" x="1890.4"/><use href="#ph" x="1906.1"/><use href="#ph" x="1921.8"/><use href="#ph" x="1937.5"/><use href="#ph" x="1953.2"/><use href="#ph" x="1968.9"/>
<rect class="chip" x="1575" y="3054.3" width="126" height="55.7" stroke-width="1.8"/><rect class="chip" x="1713" y="3054.3" width="125.6" height="55.7" stroke-width="1.8"/><rect class="chip" x="1851.4" y="3054.3" width="125.6" height="55.7" stroke-width="1.8"/>
<g class="bi R" font-size="17"><text class="m" x="1583" y="3032"><tspan class="o">Y</tspan><tspan class="s">0</tspan></text><text class="m" x="1690" y="3032"><tspan class="o">Y</tspan><tspan class="s">7</tspan></text><text class="m" x="1722" y="3032"><tspan class="o">Y</tspan><tspan class="s">8</tspan></text><text class="m" x="1831" y="3032"><tspan class="o">Y</tspan><tspan class="s">15</tspan></text><text class="m" x="1862" y="3032"><tspan class="o">Y</tspan><tspan class="s">16</tspan></text><text class="m" x="1969" y="3032"><tspan class="o">Y</tspan><tspan class="s">23</tspan></text></g>
<g class="b R" font-size="15"><text x="1617" y="3031" textLength="46">······</text><text x="1755" y="3031" textLength="46">······</text><text x="1895" y="3031" textLength="46">······</text></g>
<g class="b B" font-size="13"><text x="1576 1584.5 1591.7 1600.2 1607.4 1615.9 1623.1 1631.6 1638.8 1647.3 1654.5 1663 1670.2 1678.7 1685.9 1694.4" y="3067">Y<tspan class="s">0</tspan>Y<tspan class="s">1</tspan>Y<tspan class="s">2</tspan>Y<tspan class="s">3</tspan>Y<tspan class="s">4</tspan>Y<tspan class="s">5</tspan>Y<tspan class="s">6</tspan>Y<tspan class="s">7</tspan></text>
<text x="1714.2 1722.7 1729.9 1738.4 1745.6 1754.1 1761.3 1769.8 1777 1785.5 1792.7 1801.2 1808.4 1816.9 1824.1 1832.6" y="3067">Y<tspan class="s">0</tspan>Y<tspan class="s">1</tspan>Y<tspan class="s">2</tspan>Y<tspan class="s">3</tspan>Y<tspan class="s">4</tspan>Y<tspan class="s">5</tspan>Y<tspan class="s">6</tspan>Y<tspan class="s">7</tspan></text>
<text x="1852.4 1860.9 1868.1 1876.6 1883.8 1892.3 1899.5 1908 1915.2 1923.7 1930.9 1939.4 1946.6 1955.1 1962.3 1970.8" y="3067">Y<tspan class="s">0</tspan>Y<tspan class="s">1</tspan>Y<tspan class="s">2</tspan>Y<tspan class="s">3</tspan>Y<tspan class="s">4</tspan>Y<tspan class="s">5</tspan>Y<tspan class="s">6</tspan>Y<tspan class="s">7</tspan></text>
<text class="m" x="1585" y="3105">A<tspan class="s">0</tspan></text><text class="m" x="1602" y="3105">A<tspan class="s">1</tspan></text><text class="m" x="1617" y="3105">A<tspan class="s">2</tspan></text><text class="m" x="1640" y="3105">ST<tspan class="s">B</tspan></text><text class="m" x="1659" y="3105">ST<tspan class="s">C</tspan></text><text class="m" x="1681" y="3105">ST<tspan class="s">A</tspan></text>
<text class="m" x="1723.6" y="3105">A<tspan class="s">0</tspan></text><text class="m" x="1739" y="3105">A<tspan class="s">1</tspan></text><text class="m" x="1755" y="3105">A<tspan class="s">2</tspan></text><text class="m" x="1778" y="3105">ST<tspan class="s">B</tspan></text><text class="m" x="1797.5" y="3105">ST<tspan class="s">C</tspan></text><text class="m" x="1820" y="3105">ST<tspan class="s">A</tspan></text>
<text class="m" x="1860.7" y="3105">A<tspan class="s">0</tspan></text><text class="m" x="1877" y="3105">A<tspan class="s">1</tspan></text><text class="m" x="1892" y="3105">A<tspan class="s">2</tspan></text><text class="m" x="1915" y="3105">ST<tspan class="s">B</tspan></text><text class="m" x="1935" y="3105">ST<tspan class="s">C</tspan></text><text class="m" x="1957.5" y="3105">ST<tspan class="s">A</tspan></text>
<text class="m" x="1666" y="3089" font-size="14">(1)</text><text class="m" x="1804" y="3090" font-size="14">(2)</text><text class="m" x="1942" y="3090" font-size="14">(3)</text></g>
<text class="b R m" x="1624" y="3090" font-size="17">74LS138</text><text class="b R m" x="1762" y="3091" font-size="17">74LS138</text><text class="b R m" x="1900" y="3091" font-size="17">74LS138</text>
<path class="lb" stroke-width="1.4" d="M1583 3110V3153.7H1860V3110M1599 3110V3162.7H1875V3110M1615 3110V3172H1891.4V3110M1703.6 3153.7V3190M1737.5 3110V3190M1771.4 3172V3190M1722 3110V3153.7M1753 3110V3172M1677 3110V3121.7H1689"/>
<path class="lr" stroke-width="1.6" d="M1662 3116V3131H1954V3110M1646 3116V3142H1938V3116M1784 3116V3131M1800 3116V3131M1815 3110V3142M1922.5 3116V3142M1801 3142V3190M1837.5 3131V3190"/>
<g class="lb cw" stroke-width="1.3"><circle cx="1646" cy="3113" r="2.8"/><circle cx="1662" cy="3113" r="2.8"/><circle cx="1784" cy="3113" r="2.8"/><circle cx="1800" cy="3113" r="2.8"/><circle cx="1922.5" cy="3113" r="2.8"/><circle cx="1938" cy="3113" r="2.8"/><circle cx="1692" cy="3121.7" r="2.5"/><circle cx="1703.6" cy="3193" r="3"/><circle cx="1737.5" cy="3193" r="3"/><circle cx="1771.4" cy="3193" r="3"/></g>
<g class="lr cw" stroke-width="1.3"><circle cx="1801" cy="3193" r="3"/><circle cx="1837.5" cy="3193" r="3"/></g>
<g class="B"><circle cx="1703.6" cy="3153.7" r="2"/><circle cx="1722" cy="3153.7" r="2"/><circle cx="1737.5" cy="3162.7" r="2"/><circle cx="1753" cy="3172" r="2"/><circle cx="1771.4" cy="3172" r="2"/></g>
<g class="R"><circle cx="1784" cy="3131" r="2"/><circle cx="1800" cy="3131" r="2"/><circle cx="1837.5" cy="3131" r="2"/><circle cx="1801" cy="3142" r="2"/><circle cx="1815" cy="3142" r="2"/><circle cx="1922.5" cy="3142" r="2"/></g>
<text class="b R" x="1700" y="3126" font-size="15">1</text>
<g class="bi B" font-size="17"><text class="m" x="1710" y="3206">A<tspan class="s">0</tspan></text><text class="m" x="1745" y="3206">A<tspan class="s">1</tspan></text><text class="m" x="1778.6" y="3206">A<tspan class="s">2</tspan></text><text class="m R" x="1812" y="3206">A<tspan class="s">3</tspan></text><text class="m R" x="1846" y="3206">A<tspan class="s">4</tspan></text></g></g>

<g id="n-three-table"><rect class="box" x="1478.6" y="3233" width="447.4" height="164" rx="12"/><text class="t" x="1488" y="3323">真值表：</text>
<rect class="w" x="1587" y="3243" width="330.6" height="145"/>
<rect x="1591" y="3250" width="322.5" height="132.7" fill="none" stroke="#1240ae" stroke-width="2.2"/>
<path class="lb" stroke-width="1.8" d="M1664.6 3250V3382.7M1810 3250V3382.7M1591 3279H1913.5"/>
<g class="bi R" font-size="21"><text class="m" x="1613" y="3273">A<tspan class="s">4</tspan></text><text class="m" x="1647" y="3273">A<tspan class="s">3</tspan></text></g>
<g class="b R" font-size="17"><text class="m" x="1692" y="3271">(1)</text><text class="m" x="1738" y="3271">(2)</text><text class="m" x="1784" y="3271">(3)</text></g>
<g class="hz R" font-size="16"><text class="m" x="1842" y="3270">输</text><text class="m" x="1870.5" y="3270">出</text></g>
<g class="b B" font-size="22" text-anchor="middle"><text x="1612 1644" y="3303">00</text><text x="1612 1644" y="3328">01</text><text x="1612 1644" y="3353">10</text><text x="1612 1644" y="3377">11</text></g>
<g font-size="16" text-anchor="middle" class="B hz">
<text x="1690" y="3302" class="R">工</text><text x="1737" y="3302">禁</text><text x="1783" y="3302">禁</text>
<text x="1690" y="3327">禁</text><text x="1737" y="3327" class="R">工</text><text x="1783" y="3327">禁</text>
<text x="1690" y="3352">禁</text><text x="1737" y="3352">禁</text><text x="1783" y="3352" class="R">工</text>
<text x="1690" y="3376">禁</text><text x="1737" y="3376">禁</text><text x="1783" y="3376">禁</text></g>
<g class="bi R" font-size="20"><text x="1826" y="3303"><tspan class="o">Y</tspan><tspan class="s">0</tspan></text><text x="1850" y="3302" style="font-style:normal">~</text><text x="1868" y="3303"><tspan class="o">Y</tspan><tspan class="s">7</tspan></text>
<text x="1826" y="3328"><tspan class="o">Y</tspan><tspan class="s">8</tspan></text><text x="1849" y="3327" style="font-style:normal">~</text><text x="1865" y="3328"><tspan class="o">Y</tspan><tspan class="s">15</tspan></text>
<text x="1826" y="3353"><tspan class="o">Y</tspan><tspan class="s">16</tspan></text><text x="1851" y="3352" style="font-style:normal">~</text><text x="1868" y="3353"><tspan class="o">Y</tspan><tspan class="s">23</tspan></text></g>
<text class="hz R m" x="1855" y="3377" font-size="17">全为 1</text></g>

<g id="n-24"><rect class="box" x="753" y="3612" width="203" height="44" rx="10"/><text class="t" x="762" y="3641">集成2线-4线译码器</text></g>

<g id="n-24-diagram"><rect class="box" x="996" y="3409" width="314.7" height="216" rx="12"/><text class="t" x="1005" y="3524">功能示意图：</text>
<rect class="w" x="1145" y="3417" width="158" height="199"/>
<use href="#pk" x="1168.7"/><use href="#pk" x="1203.7"/><use href="#pk" x="1238"/><use href="#pk" x="1273"/>
<rect x="1151.7" y="3476.7" width="137.3" height="82" fill="#fff" stroke="#111" stroke-width="2"/>
<g class="bi K" font-size="15"><text class="m" x="1170" y="3439"><tspan class="o">Y</tspan><tspan class="s">0</tspan></text><text class="m" x="1204" y="3439"><tspan class="o">Y</tspan><tspan class="s">1</tspan></text><text class="m" x="1239" y="3439"><tspan class="o">Y</tspan><tspan class="s">2</tspan></text><text class="m" x="1274" y="3439"><tspan class="o">Y</tspan><tspan class="s">3</tspan></text><text class="m" x="1171" y="3607">A<tspan class="s">0</tspan></text><text class="m" x="1204" y="3607">A<tspan class="s">1</tspan></text><text class="m o" x="1272" y="3607">S</text></g>
<g class="b K" font-size="15"><text class="m" x="1170" y="3492">Y<tspan class="s">0</tspan></text><text class="m" x="1204" y="3492">Y<tspan class="s">1</tspan></text><text class="m" x="1239" y="3492">Y<tspan class="s">2</tspan></text><text class="m" x="1274" y="3492">Y<tspan class="s">3</tspan></text><text class="m" x="1171" y="3553">A<tspan class="s">0</tspan></text><text class="m" x="1204" y="3553">A<tspan class="s">1</tspan></text><text class="m" x="1273" y="3553">ST</text><text class="m" x="1195" y="3514">1</text><text class="m" x="1195" y="3532">2</text><text x="1204" y="3525" font-size="16">74LS139</text></g>
<path class="lk" stroke-width="1.5" d="M1189 3518H1201M1170 3559V3592M1204 3559V3592M1272 3567V3592"/><circle cx="1272" cy="3563" r="4" class="lk cw" stroke-width="1.5"/></g>

<g id="n-24-table"><rect class="box" x="996" y="3637" width="414.7" height="231" rx="12"/><text class="t" x="1005" y="3760">真值表：</text>
<rect class="w" x="1098" y="3643" width="307" height="219"/>
<rect x="1105" y="3649" width="296" height="207" fill="none" stroke="#111" stroke-width="3"/>
<path class="lk" stroke-width="1.5" d="M1216.7 3649V3856M1105 3678H1401M1105 3718H1401"/>
<g class="hz K" font-size="22"><text class="m" x="1140.7" y="3670">输</text><text class="m" x="1180.7" y="3670">入</text><text class="m" x="1289" y="3670">输</text><text class="m" x="1329" y="3670">出</text></g>
<text class="i m o K" x="1130.7" y="3705" font-size="22">S</text>
<g class="b K" font-size="22"><text class="m" x="1160" y="3706">A<tspan class="s">1</tspan></text><text class="m" x="1188" y="3706">A<tspan class="s">0</tspan></text></g>
<g class="bi K" font-size="27"><text class="m" x="1243" y="3711"><tspan class="o">Y</tspan><tspan class="s">3</tspan></text><text class="m" x="1286" y="3711"><tspan class="o">Y</tspan><tspan class="s">2</tspan></text><text class="m" x="1329" y="3711"><tspan class="o">Y</tspan><tspan class="s">1</tspan></text><text class="m" x="1370" y="3711"><tspan class="o">Y</tspan><tspan class="s">0</tspan></text></g>
<g class="b K" font-size="26" text-anchor="middle">
<text x="1128 1157 1185 1240 1286 1330 1376" y="3741" style="fill:#e8401c">1××1111</text>
<text x="1128 1157 1185 1240 1286 1330 1376" y="3767">0001110</text>
<text x="1128 1157 1185 1240 1286 1330 1376" y="3795">0011101</text>
<text x="1128 1157 1185 1240 1286 1330 1376" y="3821">0101011</text>
<text x="1128 1157 1185 1240 1286 1330 1376" y="3848">0110111</text></g></g>

<g id="n-logic"><rect class="box" x="612" y="3894" width="332" height="44" rx="10"/><text class="t" x="621" y="3922">用二进制译码器实现组合逻辑函数</text></g>
<g id="n-logic-desc"><rect class="box" x="985" y="3880" width="821" height="72" rx="10"/><text class="t" x="993" y="3910">由于二进制译码器的输出端能提供输入变量的全部最小项，而任何组合逻辑函数都可以</text><text class="t" x="993" y="3938">变换为最小项之和的标准式，因此用二进制译码器和门电路可实现任何组合逻辑函数</text></g>
<g id="n-bcd-dec"><rect class="box" x="428" y="3964" width="174" height="45" rx="10"/><text class="t" x="438" y="3994">二-十进制译码器</text></g>
<g id="n-bcd-dec2"><rect class="box" x="644" y="3964" width="190.5" height="45" rx="10"/><text class="t" x="652" y="3994">8421BCD码译码器</text></g>
<g id="n-disp"><rect class="box" x="428" y="4021" width="125" height="44" rx="10"/><text class="t" x="438" y="4050">显示译码器</text></g>
<g id="n-disp2"><rect class="box" x="592" y="4021" width="120.5" height="44" rx="10"/><text class="t" x="600" y="4050">数码显示器</text></g>

<text x="1905" y="4008" font-size="66" fill="#c6c6c6" textLength="368">知乎 @无何</text>
</svg>
